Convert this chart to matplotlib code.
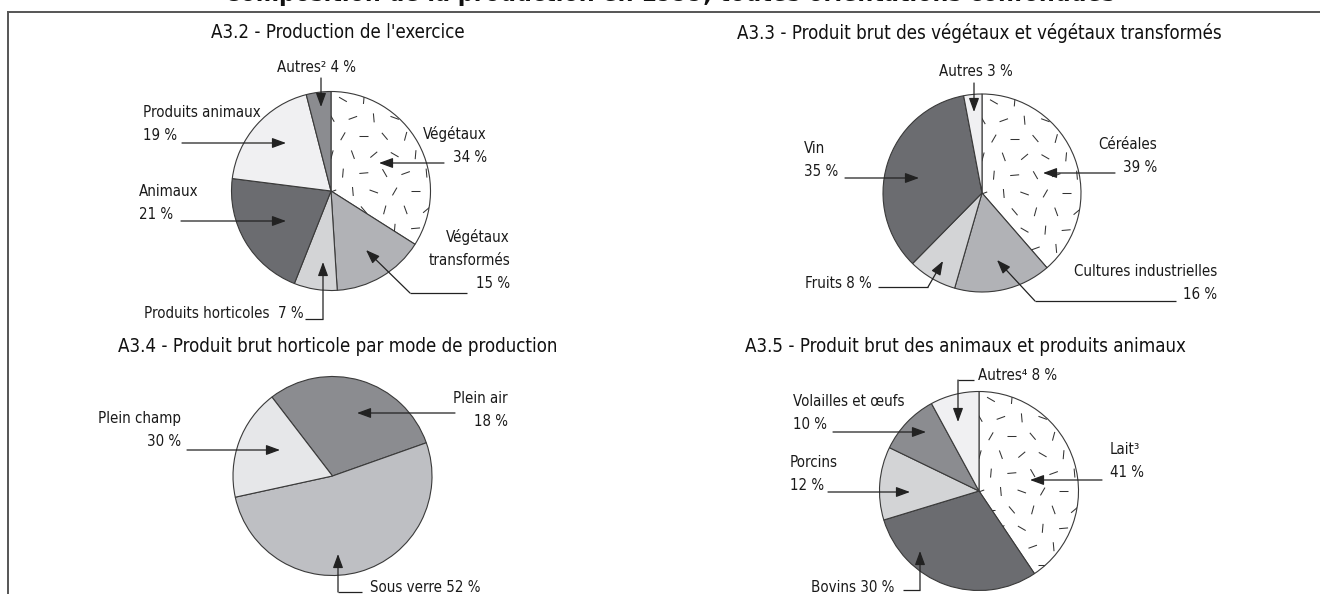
import numpy as np
import matplotlib
matplotlib.use("Agg")
import matplotlib.pyplot as plt
from matplotlib import font_manager as fm
from matplotlib.collections import LineCollection

W, H = 1320, 594

# A3.2 - Production de l'exercice
prod_values = [34, 15, 7, 21, 19, 4]
prod_labels = ["Végétaux\n34 %", "Végétaux\ntransformés\n15 %", "Produits horticoles  7 %",
               "Animaux\n21 %", "Produits animaux\n19 %", "Autres² 4 %"]
prod_colors = ["white", "#b1b2b6", "#d3d4d6", "#6b6c70", "#f0f0f2", "#8b8c90"]

# A3.3 - Produit brut des végétaux et végétaux transformés
veg_values = [39, 16, 8, 35, 3]
veg_labels = ["Céréales\n39 %", "Cultures industrielles\n16 %", "Fruits 8 %", "Vin\n35 %", "Autres 3 %"]
veg_colors = ["white", "#b1b2b6", "#d3d4d6", "#6b6c70", "#f0f0f2"]

# A3.4 - Produit brut horticole par mode de production (wedges as drawn in the source)
horti_values = [30, 52, 18]
horti_labels = ["Plein air\n18 %", "Sous verre 52 %", "Plein champ\n30 %"]
horti_colors = ["#8b8c90", "#bebfc3", "#e6e7e9"]

# A3.5 - Produit brut des animaux et produits animaux
anim_values = [41, 30, 12, 10, 8]
anim_labels = ["Lait³\n41 %", "Bovins 30 %", "Porcins\n12 %", "Volailles et œufs\n10 %", "Autres⁴ 8 %"]
anim_colors = ["white", "#6b6c70", "#d3d4d6", "#8b8c90", "#f0f0f2"]

title = "Composition de la production en 1999, toutes orientations confondues"
subtitles = ["A3.2 - Production de l'exercice",
             "A3.3 - Produit brut des végétaux et végétaux transformés",
             "A3.4 - Produit brut horticole par mode de production",
             "A3.5 - Produit brut des animaux et produits animaux"]

# pick the narrowest sans available
font_names = {f.name for f in fm.fontManager.ttflist}
has_dv_cond = any(f.name == "DejaVu Sans" and f.stretch == "condensed" for f in fm.fontManager.ttflist)
if "Liberation Sans Narrow" in font_names:
    FONT = dict(family=["Liberation Sans Narrow", "DejaVu Sans"])
elif has_dv_cond:
    FONT = dict(family=["DejaVu Sans"], fontstretch="condensed")
else:
    FONT = dict(family=["Roboto", "DejaVu Sans"])


def add_dashes(ax, wedge, r):
    # scattered short strokes used as texture on the white wedge
    angles = [20, 95, 160, 60, 0, 130, 75, 110, 40, 150, 85, 5, 120]
    segs = []
    k = 0
    for j, y in enumerate(np.arange(-0.93, 1.0, 0.185)):
        off = 0.1 if j % 2 else 0.0
        for x in np.arange(-0.93 + off, 1.0, 0.21):
            a = np.deg2rad(angles[k % len(angles)])
            k += 1
            dx, dy = 4.5 / r * np.cos(a), 4.5 / r * np.sin(a)
            segs.append([(x - dx, y - dy), (x + dx, y + dy)])
    lc = LineCollection(segs, colors="#333333", linewidths=0.75)
    ax.add_collection(lc)
    lc.set_clip_path(wedge)


def draw_pie(values, colors, cx, cy, r, start, textured=True):
    ax = fig.add_axes([(cx - r) / W, 1 - (cy + r) / H, 2 * r / W, 2 * r / H])
    wedges, _ = ax.pie(values, colors=colors, startangle=start, counterclock=False, radius=1,
                       wedgeprops=dict(edgecolor="#3a3a3a", linewidth=0.8))
    for w in wedges:
        w.set_clip_on(False)
    ax.set_aspect("auto")
    ax.set_xlim(-1, 1)
    ax.set_ylim(-1, 1)
    ax.axis("off")
    if textured:
        add_dashes(ax, wedges[0], r)
    return ax


fig = plt.figure(figsize=(W / 100, H / 100), dpi=100)
renderer = fig.canvas.get_renderer()


def measure(text, size, **kw):
    t = fig.text(0, 0, text, fontsize=size, **FONT, **kw)
    bb = t.get_window_extent(renderer)
    t.remove()
    return bb


label_size = 10 * 118 / measure("Produits animaux", 10).width
sub_size = 10 * 256 / measure(subtitles[0], 10).width
title_size = 10 * 886 / measure(title, 10, fontweight="bold").width
label_spacing = 25 / measure("lp", label_size).height

draw_pie(prod_values, prod_colors, 331, 191, 99.5, 90)
draw_pie(veg_values, veg_colors, 982, 193, 99, 90)
draw_pie(horti_values, horti_colors, 332.5, 476, 99.5, 127.5, textured=False)
draw_pie(anim_values, anim_colors, 979, 491, 99.5, 90)

# overlay in pixel coordinates for frame, texts and arrows
ov = fig.add_axes([0, 0, 1, 1])
ov.set_xlim(0, W)
ov.set_ylim(H, 0)
ov.axis("off")
ov.set_zorder(10)
ov.patch.set_visible(False)

line_col = "#555555"
ov.plot([8, W], [12, 12], color=line_col, lw=1.4)
ov.plot([8, 8], [12, H], color=line_col, lw=1.4)

ov.text(670, 1, title, ha="center", va="baseline", fontsize=title_size, fontweight="bold",
        color="#111111", **FONT)

sub_kw = dict(ha="center", va="center", fontsize=sub_size, color="#111111", **FONT)
ov.text(338, 33, subtitles[0], **sub_kw)
ov.text(979, 33, subtitles[1], **sub_kw)
ov.text(338, 347, subtitles[2], **sub_kw)
ov.text(965, 347, subtitles[3], **sub_kw)

lab_kw = dict(fontsize=label_size, color="#1a1a1a", linespacing=label_spacing, **FONT)


def label(x, y, text, ha="left", va="center"):
    ov.text(x, y, text, ha=ha, va=va, **lab_kw)


def arrow(points):
    # polyline, last segment ends with an arrow head
    pts = np.array(points, dtype=float)
    if len(pts) > 2:
        ov.plot(pts[:-1, 0], pts[:-1, 1], color="#222222", lw=0.9, solid_capstyle="butt")
    ov.annotate("", xy=pts[-1], xytext=pts[-2],
                arrowprops=dict(arrowstyle="-|>,head_length=0.6,head_width=0.22", color="#222222",
                                lw=0.9, mutation_scale=14, shrinkA=0, shrinkB=0))


# A3.2 labels
label(487, 145, prod_labels[0], ha="right")
arrow([(444, 163), (379, 163)])
label(510, 260, prod_labels[1], ha="right")
arrow([(467, 293), (410, 293), (366, 250)])
label(144, 313, prod_labels[2])
arrow([(305, 319), (323, 319), (323, 262)])
label(139, 203, prod_labels[3])
arrow([(181, 221), (286, 221)])
label(143, 124, prod_labels[4])
arrow([(182, 143), (286, 143)])
label(277, 68, prod_labels[5])
arrow([(321, 78), (321, 107)])

# A3.3 labels
label(1157, 156, veg_labels[0], ha="right")
arrow([(1115, 173), (1043, 173)])
label(1217, 283, veg_labels[1], ha="right")
arrow([(1176, 301), (1035, 301), (997, 260)])
label(872, 283, veg_labels[2], ha="right")
arrow([(878, 287), (928, 287), (943, 261)])
label(804, 160, veg_labels[3])
arrow([(845, 178), (919, 178)])
label(976, 72, veg_labels[4], ha="center")
arrow([(974, 83), (974, 112)])

# A3.4 labels
label(508, 410, horti_labels[0], ha="right")
arrow([(455, 413), (357, 413)])
label(370, 587, horti_labels[1])
arrow([(362, 592), (338, 592), (338, 554)])
label(181, 430, horti_labels[2], ha="right")
arrow([(187, 450), (280, 450)])

# A3.5 labels
label(1110, 461, anim_labels[0])
arrow([(1102, 480), (1030, 480)])
label(811, 587, anim_labels[1])
arrow([(903, 590), (920, 590), (920, 551)])
label(790, 474, anim_labels[2])
arrow([(828, 492), (910, 492)])
label(793, 413, anim_labels[3])
arrow([(833, 432), (926, 432)])
label(978, 375, anim_labels[4])
arrow([(974, 380), (958, 380), (958, 422)])

fig.savefig("out.png", dpi=100)
